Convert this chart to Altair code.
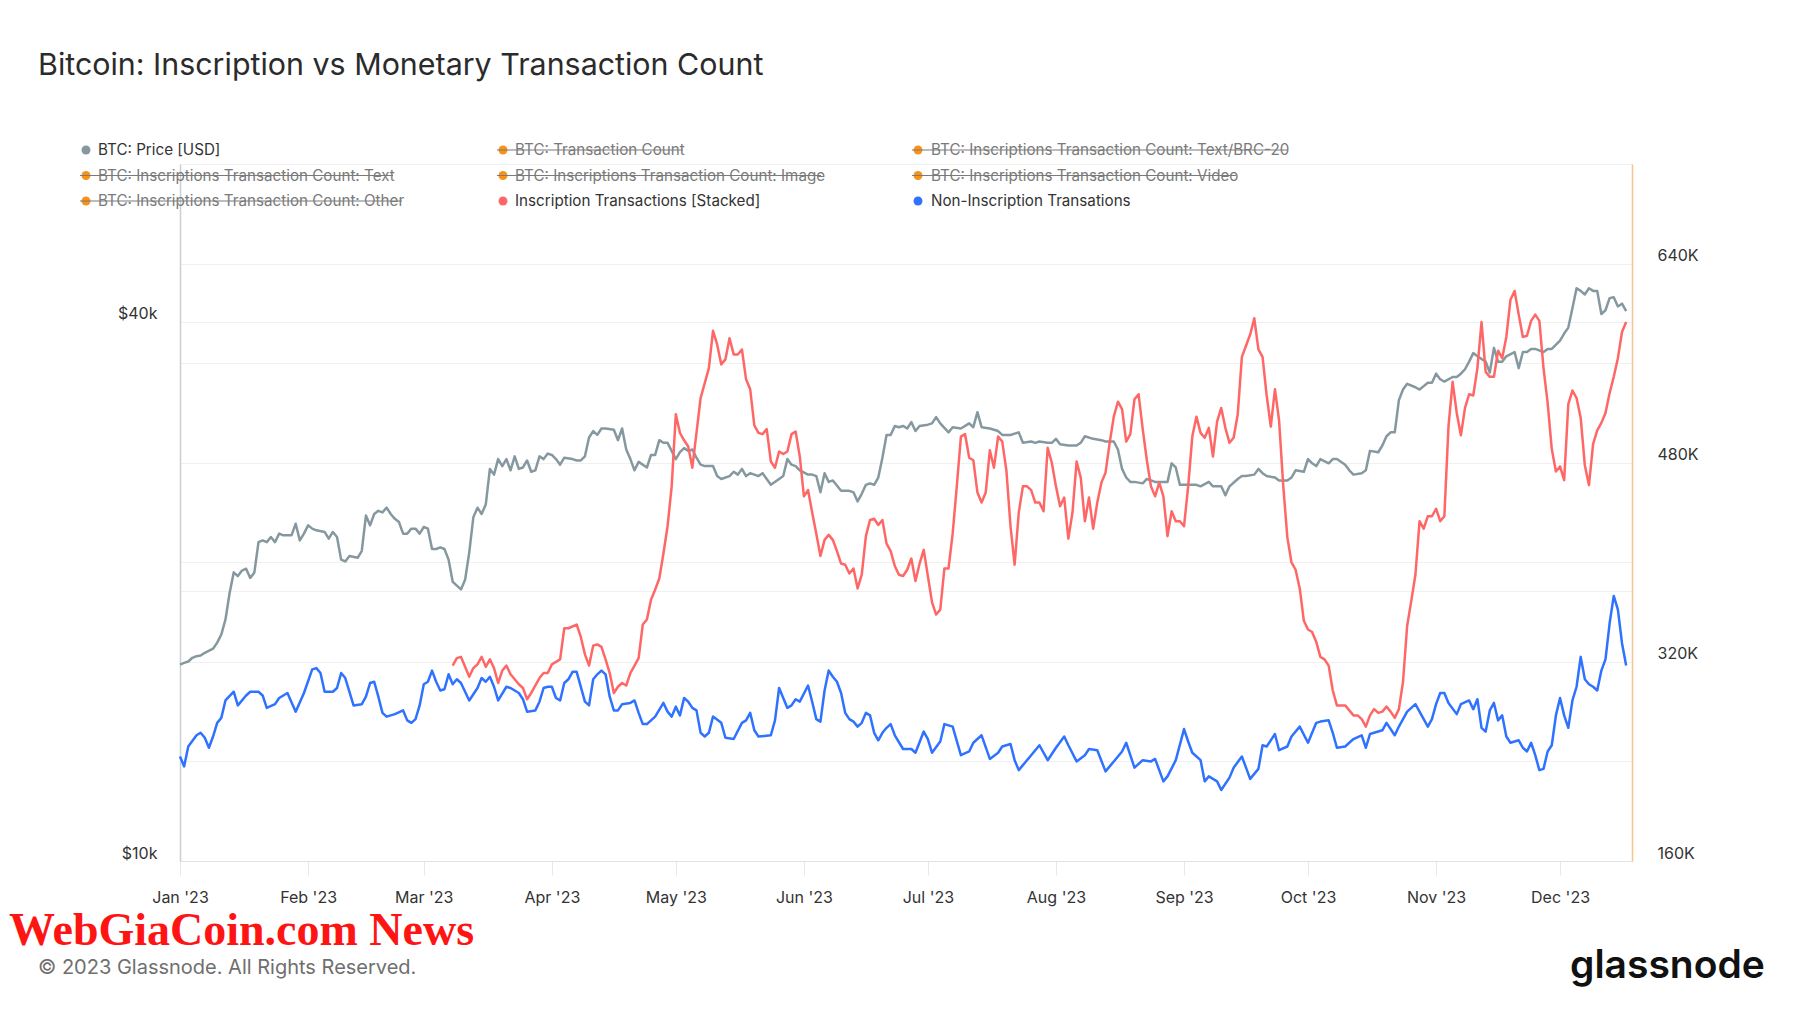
import altair as alt
import pandas as pd

# ---------------- data (day offset from 2023-01-01, value) ----------------
# BTC price, thousands of USD
price_k = [(0,16.57),(1,16.64),(2,16.7),(3,16.86),(4,16.93),(5,16.96),(6,17.08),(8,17.26),(9,17.53),(10,17.9),
 (11,18.6),(12,19.9),(13,21.0),(14,20.8),(15,21.1),(16,21.2),(17,20.7),(18,21.0),(19,22.7),(20,22.8),
 (21,22.7),(22,23.0),(23,22.7),(24,23.2),(25,23.1),(27,23.1),(28,23.8),(29,22.8),(30,23.2),(31,23.7),
 (32,23.5),(33,23.4),(35,23.3),(36,22.9),(37,23.3),(38,23.0),(39,21.7),(40,21.6),(41,21.9),(43,21.8),
 (44,22.2),(45,24.3),(46,23.7),(47,24.4),(48,24.6),(49,24.5),(50,24.8),(51,24.4),(52,24.1),(53,23.9),
 (54,23.2),(55,23.2),(56,23.5),(57,23.5),(58,23.2),(59,23.6),(60,23.5),(61,22.3),(62,22.3),(63,22.4),
 (64,22.3),(65,21.7),(66,20.5),(67,20.3),(68,20.1),(69,20.6),(70,22.1),(71,24.2),(72,24.8),(73,24.4),
 (74,25.0),(75,27.4),(76,27.0),(77,28.1),(78,27.6),(79,28.1),(80,27.3),(81,28.3),(82,27.4),(83,27.5),
 (84,28.0),(85,27.2),(86,27.3),(87,28.3),(88,28.1),(89,28.5),(90,28.4),(91,28.1),(92,27.7),(93,28.2),
 (95,28.1),(96,28.0),(97,28.0),(98,28.3),(99,29.7),(100,30.2),(101,29.9),(102,30.4),(103,30.4),(105,30.3),
 (106,29.5),(107,30.4),(108,28.8),(109,28.1),(110,27.3),(111,27.9),(113,27.5),(114,28.4),(115,28.4),(116,29.5),
 (117,29.3),(118,29.3),(120,28.1),(121,28.6),(122,28.9),(123,28.7),(124,28.8),(125,28.2),(126,27.7),(127,27.6),
 (129,27.6),(130,26.9),(131,26.7),(133,26.9),(134,27.2),(135,27.0),(136,27.4),(137,26.9),(138,27.1),(140,26.9),
 (141,27.1),(142,26.7),(143,26.3),(145,26.7),(146,26.9),(147,28.1),(148,27.7),(149,27.6),(150,27.3),(152,27.0),
 (153,27.0),(154,26.9),(155,25.8),(156,27.1),(157,26.5),(158,26.6),(160,25.9),(161,25.9),(162,25.9),(163,25.8),
 (164,25.2),(165,25.7),(166,26.3),(167,26.4),(168,26.3),(169,26.8),(170,28.2),(171,29.9),(172,29.9),(173,30.6),
 (174,30.5),(175,30.6),(176,30.4),(177,30.9),(178,30.2),(179,30.6),(181,30.7),(182,30.8),(183,31.3),(184,30.8),
 (186,30.1),(187,30.5),(189,30.4),(191,30.8),(192,30.5),(193,31.7),(194,30.5),(196,30.4),(198,30.2),(199,29.9),
 (200,29.9),(201,29.9),(202,30.0),(203,30.1),(204,29.3),(206,29.4),(207,29.3),(208,29.4),(210,29.3),(211,29.3),
 (212,29.6),(213,29.2),(215,29.1),(217,29.1),(218,29.3),(219,29.8),(221,29.6),(223,29.5),(224,29.4),(226,29.4),
 (227,28.8),(228,27.4),(229,26.8),(230,26.5),(231,26.5),(233,26.4),(234,26.7),(236,26.5),(238,26.5),(239,26.5),
 (240,27.8),(241,27.5),(242,26.3),(244,26.3),(246,26.3),(247,26.2),(249,26.5),(250,26.2),(252,26.2),(253,25.6),
 (254,26.2),(256,26.7),(257,26.9),(258,26.9),(260,27.0),(261,27.4),(262,27.1),(263,26.9),(265,26.8),(266,26.6),
 (268,26.6),(269,26.8),(270,27.3),(272,27.2),(273,28.1),(274,27.8),(275,27.6),(276,28.1),(278,27.8),(279,28.1),
 (280,28.1),(282,27.7),(283,27.3),(284,27.0),(286,27.1),(287,27.3),(288,28.7),(290,28.6),(291,29.1),(292,29.8),
 (293,30.1),(294,30.1),(295,32.7),(296,33.6),(297,34.1),(299,33.8),(300,33.6),(301,33.9),(302,34.2),(303,34.2),
 (304,35.0),(305,34.5),(306,34.3),(308,34.7),(309,34.7),(310,35.0),(311,35.4),(312,36.1),(313,36.9),(314,36.6),
 (316,36.1),(317,35.1),(318,37.4),(319,36.1),(320,36.1),(321,36.6),(323,37.0),(324,35.5),(325,37.0),(326,37.0),
 (327,37.3),(328,37.3),(330,37.0),(331,37.3),(332,37.3),(334,38.1),(335,38.8),(336,39.4),(337,41.4),(338,43.6),
 (339,43.3),(340,42.9),(341,43.6),(342,43.3),(343,43.3),(344,40.8),(345,41.2),(346,42.5),(347,42.6),(348,41.6),
 (349,41.9),(350,41.1)]

# Inscription transactions [stacked], thousands
inscription_k = [(66,317),(67,323),(68,324),(69,316),(70,308),(71,315),(72,318),(73,324),(74,316),(75,322),
 (76,315),(77,303),(78,313),(79,317),(80,310),(82,302),(83,299),(84,290),(85,295),(87,307),(88,311),(89,311),
 (90,318),(92,322),(93,347),(94,347),(96,350),(97,340),(98,326),(99,317),(100,333),(101,334),(102,332),(103,322),
 (104,311),(105,295),(106,300),(107,303),(108,301),(109,311),(111,323),(112,350),(113,354),(114,370),(115,378),
 (116,387),(117,407),(118,429),(119,461),(120,519),(121,504),(122,498),(123,493),(124,476),(125,504),(126,532),
 (127,544),(128,556),(129,586),(130,575),(131,559),(132,563),(133,580),(134,567),(135,567),(136,571),(137,547),
 (138,539),(139,510),(140,504),(141,503),(142,507),(143,481),(144,476),(145,489),(146,487),(147,489),(148,503),
 (149,505),(150,485),(151,453),(152,458),(153,440),(154,423),(155,405),(156,418),(157,422),(158,418),(159,409),
 (160,399),(161,398),(162,391),(163,395),(164,379),(165,390),(166,421),(167,434),(168,435),(169,430),(170,434),
 (171,415),(172,409),(173,397),(174,390),(175,389),(176,394),(177,403),(178,385),(179,399),(180,410),(181,389),
 (182,368),(183,358),(184,362),(185,395),(186,395),(187,423),(188,461),(189,501),(190,503),(191,484),(192,482),
 (193,456),(194,448),(195,456),(196,490),(197,476),(198,501),(199,497),(200,474),(201,429),(202,398),(203,440),
 (204,461),(205,461),(206,458),(207,448),(208,448),(209,441),(210,492),(211,480),(212,461),(213,445),(214,452),
 (215,419),(216,440),(217,481),(218,468),(219,433),(220,452),(221,427),(222,448),(223,464),(224,472),(225,496),
 (226,517),(227,529),(228,523),(229,497),(230,503),(231,531),(232,535),(233,507),(234,482),(235,461),(236,453),
 (237,464),(238,453),(239,421),(240,441),(241,433),(242,433),(243,429),(244,461),(245,501),(246,517),(247,504),
 (248,500),(249,508),(250,485),(251,513),(252,524),(253,508),(254,496),(255,500),(256,519),(257,565),(258,574),
 (259,583),(260,596),(261,571),(262,565),(263,534),(264,509),(265,539),(266,514),(267,462),(268,420),(269,400),
 (270,394),(271,379),(272,353),(273,346),(274,344),(275,336),(276,324),(277,322),(278,317),(279,297),(280,285),
 (282,285),(283,281),(284,277),(285,277),(286,274),(287,268),(288,277),(289,282),(290,279),(291,280),(292,284),
 (293,280),(294,275),(295,282),(296,304),(297,349),(298,369),(299,390),(300,433),(301,427),(302,437),(303,437),
 (304,443),(305,433),(306,437),(307,509),(308,545),(309,520),(310,502),(311,524),(312,535),(313,534),(314,556),
 (315,593),(316,553),(317,549),(318,549),(319,570),(320,564),(321,581),(322,611),(323,618),(324,599),(325,581),
 (326,582),(327,594),(328,599),(329,594),(330,556),(331,528),(332,491),(333,473),(334,477),(335,466),(336,527),
 (337,538),(338,532),(339,516),(340,478),(341,462),(342,495),(343,506),(344,512),(345,520),(346,536),(347,549),
 (348,564),(349,585),(350,593)]

# Non-inscription transactions, thousands
non_inscription_k = [(0,244),(1,236),(2,252),(4,261),(5,263),(6,259),(7,251),(8,260),(9,271),(10,275),(11,289),
 (13,296),(14,285),(16,293),(17,296),(19,296),(20,293),(21,283),(23,286),(24,291),(26,295),(28,280),(30,295),
 (32,314),(33,315),(34,311),(35,296),(37,296),(38,299),(39,311),(40,307),(42,285),(44,286),(45,292),(46,303),
 (47,304),(48,292),(49,279),(50,276),(52,278),(54,281),(55,273),(56,271),(57,274),(58,285),(59,302),(60,304),
 (61,313),(62,304),(63,297),(64,298),(65,310),(66,302),(67,306),(68,303),(70,289),(72,299),(73,307),(74,304),
 (75,308),(76,300),(77,289),(79,300),(80,299),(82,295),(83,290),(84,280),(86,281),(87,288),(88,299),(89,300),
 (90,300),(91,291),(92,289),(93,303),(94,306),(95,312),(96,312),(98,288),(99,285),(100,306),(101,310),(102,313),
 (103,310),(104,292),(105,281),(106,281),(107,286),(109,287),(110,289),(111,279),(112,270),(113,270),(115,276),
 (117,287),(118,280),(119,276),(120,284),(121,277),(122,291),(123,288),(124,283),(125,281),(126,263),(127,260),
 (128,263),(129,276),(131,271),(132,259),(134,258),(136,271),(137,273),(138,279),(139,265),(140,260),(143,261),
 (144,273),(145,299),(146,291),(147,283),(148,285),(149,290),(150,288),(152,301),(153,288),(154,274),(155,272),
 (156,297),(157,313),(158,308),(159,304),(160,295),(161,279),(162,274),(163,272),(164,268),(165,271),(166,279),
 (167,277),(168,263),(169,257),(170,263),(171,267),(172,270),(173,261),(175,250),(177,250),(178,247),(180,264),
 (181,258),(182,247),(184,256),(185,270),(187,268),(189,245),(191,248),(192,255),(194,261),(196,242),(198,247),
 (199,252),(201,254),(202,241),(203,233),(204,237),(206,245),(208,253),(210,241),(212,251),(214,260),(215,253),
 (217,240),(219,245),(220,250),(222,249),(224,232),(226,240),(228,248),(229,255),(231,235),(233,241),(235,240),
 (236,242),(238,224),(239,228),(241,241),(243,266),(244,256),(245,247),(247,241),(248,224),(249,228),(251,224),
 (252,217),(254,227),(255,235),(257,244),(258,235),(259,226),(261,234),(262,253),(263,252),(265,262),(266,249),
 (268,252),(269,260),(271,268),(273,255),(275,271),(276,272),(278,273),(279,263),(280,251),(282,252),(283,255),
 (284,258),(286,261),(287,251),(288,262),(290,264),(291,265),(292,271),(294,261),(295,268),(297,280),(299,286),
 (300,280),(302,268),(303,274),(304,286),(305,295),(306,295),(307,287),(309,278),(310,286),(312,289),(313,282),
 (314,290),(315,267),(316,264),(317,281),(318,287),(319,273),(320,277),(321,260),(322,255),(324,257),(325,251),
 (326,248),(327,255),(328,245),(329,233),(330,234),(331,248),(332,253),(333,277),(334,291),(335,277),(336,267),
 (337,289),(338,300),(339,324),(340,306),(341,302),(342,300),(343,297),(344,313),(345,322),(346,351),(347,373),
 (348,362),(349,335),(350,317)]

series_names = ["Non-Inscription Transations", "Inscription Transactions [Stacked]"]
price_ticks = [10000, 20000, 40000]
count_ticks = [160000, 240000, 320000, 400000, 480000, 560000, 640000, 720000]

TITLE = "Bitcoin: Inscription vs Monetary Transaction Count"
FOOTER = "\u00a9 2023 Glassnode. All Rights Reserved."
LOGO = "glassnode"
WATERMARK = "WebGiaCoin.com News"

GRAY, ORANGE, RED, BLUE = "#86989f", "#f7931a", "#ff6767", "#2f72ff"

legend_items = [
    ("BTC: Price [USD]", GRAY, False),
    ("BTC: Transaction Count", ORANGE, True),
    ("BTC: Inscriptions Transaction Count: Text/BRC-20", ORANGE, True),
    ("BTC: Inscriptions Transaction Count: Text", ORANGE, True),
    ("BTC: Inscriptions Transaction Count: Image", ORANGE, True),
    ("BTC: Inscriptions Transaction Count: Video", ORANGE, True),
    ("BTC: Inscriptions Transaction Count: Other", ORANGE, True),
    ("Inscription Transactions [Stacked]", RED, False),
    ("Non-Inscription Transations", BLUE, False),
]

# ---------------- tables ----------------
base = pd.Timestamp("2023-01-01")


def frame(pairs, mult, name):
    d, v = zip(*pairs)
    return pd.DataFrame({
        "date": base + pd.to_timedelta(list(d), unit="D"),
        "value": [x * mult for x in v],
        "series": name,
    })


price_df = frame(price_k, 1000, "BTC: Price [USD]")
counts_df = pd.concat([
    frame(non_inscription_k, 1000, series_names[0]),
    frame(inscription_k, 1000, series_names[1]),
], ignore_index=True)

# ---------------- layout ----------------
W, H = 1452, 697
x_domain = [alt.DateTime(year=2023, month=1, date=1),
            alt.DateTime(year=2023, month=12, date=18, hours=10)]
month_ticks = [alt.DateTime(year=2023, month=m, date=1) for m in range(1, 13)]

x_enc = alt.X("date:T", scale=alt.Scale(domain=x_domain),
              axis=alt.Axis(values=month_ticks, format="%b '%y", title=None, grid=False,
                            tickSize=14, tickColor="#e8e8e8", domainColor="#e3e3e3",
                            labelFlush=False, labelOverlap=False,
                            labelPadding=14, labelFontSize=16, labelColor="#333"))

price_line = alt.Chart(price_df).mark_line(color=GRAY, strokeWidth=2.5, strokeJoin="round").encode(
    x=x_enc,
    y=alt.Y("value:Q",
            scale=alt.Scale(type="log", domain=[10000, 60000], nice=False),
            axis=alt.Axis(orient="left", values=price_ticks, title=None, grid=True,
                          labelExpr="datum.value == 20000 ? '' : '$' + format(datum.value / 1000, 'd') + 'k'",
                          ticks=False, domainColor="#c5cfd4", domainWidth=1.5,
                          gridColor="#f0f0f0", labelPadding=23, labelBaseline="bottom",
                          labelFontSize=16, labelColor="#333")),
)

count_lines = alt.Chart(counts_df).mark_line(strokeWidth=2.5, strokeJoin="round").encode(
    x=x_enc,
    y=alt.Y("value:Q",
            scale=alt.Scale(domain=[160000, 720000], nice=False, zero=False),
            axis=alt.Axis(orient="right", values=count_ticks, title=None, grid=True,
                          labelExpr="datum.value % 160000 == 0 ? format(datum.value / 1000, 'd') + 'K' : ''",
                          ticks=False, domainColor="#f8c48a", domainWidth=1.5,
                          gridColor="#f0f0f0", labelPadding=25, labelBaseline="bottom",
                          labelFontSize=16, labelColor="#333")),
    color=alt.Color("series:N", scale=alt.Scale(domain=series_names, range=[BLUE, RED]), legend=None),
)

one = pd.DataFrame({"k": [0]})
decor = []


def text(t, x, y, size, color, font="Inter", weight="normal", baseline="middle", align="left"):
    decor.append(alt.Chart(one).mark_text(text=t, font=font, fontSize=size, fontWeight=weight,
                                          color=color, align=align, baseline=baseline).encode(
        x=alt.value(x), y=alt.value(y)))


text(TITLE, -142, -89, 30.4, "#2b2b2b", baseline="alphabetic")

col_sym = [-94, 323, 738]
col_txt = [-82, 335, 751]
row_y = [-14, 11.5, 37]
strike_end = {1: 503, 2: 1108, 3: 213, 4: 641, 5: 1056, 6: 222}
for i, (label, color, struck) in enumerate(legend_items):
    r, c = divmod(i, 3)
    decor.append(alt.Chart(one).mark_point(shape="circle", filled=True, size=80, opacity=1, color=color).encode(
        x=alt.value(col_sym[c]), y=alt.value(row_y[r])))
    text(label, col_txt[c], row_y[r], 15.2, "#7a7a7a" if struck else "#333")
    if struck:
        decor.append(alt.Chart(one).mark_rule(color="#7a7a7a", strokeWidth=1.2).encode(
            x=alt.value(col_sym[c] - 6), x2=alt.value(strike_end[i]), y=alt.value(row_y[r])))

text(WATERMARK, -171, 781, 46, "#ff1414", font="Liberation Serif", weight="bold", baseline="alphabetic")
text(FOOTER, -142, 804, 20, "#6f6f6f")
text(LOGO, 1390, 814, 39, "#111", weight=600, baseline="alphabetic")

chart = alt.layer(price_line, count_lines, *decor).resolve_scale(y="independent").properties(
    width=W, height=H,
    autosize=alt.AutoSizeParams(type="none"),
    padding={"left": 172, "top": 156, "right": 150, "bottom": 135},
).configure_view(stroke=None).configure_axis(labelFont="Inter")

chart.save("out.html", embed_options={"renderer": "svg", "actions": False})
